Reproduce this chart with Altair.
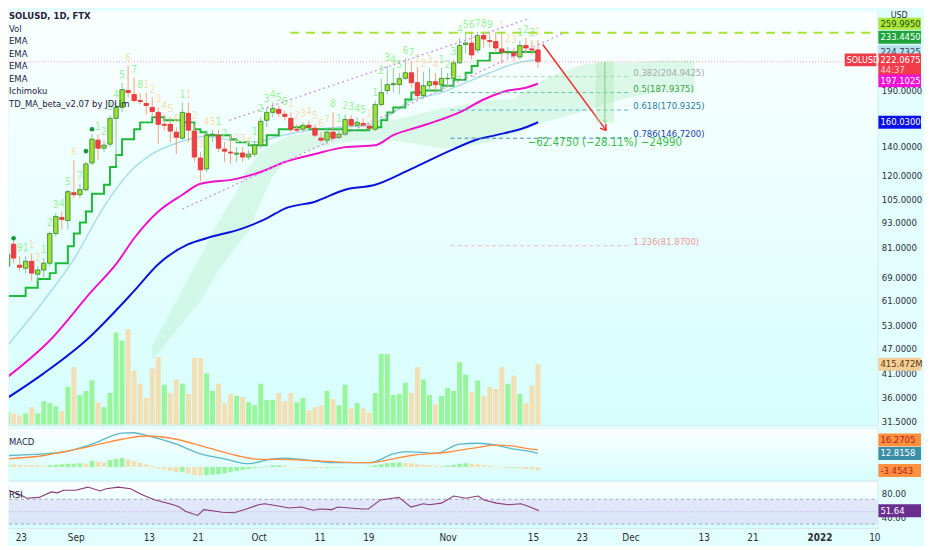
import altair as alt
import pandas as pd

# ---------------- layout (pixels) ----------------
W, H1, H2, H3 = 876, 417, 52, 46
FONT = "Liberation Sans Narrow, DejaVu Sans Condensed, Arial Narrow, sans-serif"
TXT = "#2A2E39"

START = pd.Timestamp("2021-08-20")

# ---------------- price candles (daily, from 2021-08-20) ----------------
opens = [73.3, 82.6, 73.7, 72.5, 75.3, 70.2, 71.8, 74.5, 87.5, 95.5,
         93.9, 109.2, 108.0, 111.0, 128.3, 145.2, 139.0, 142.1, 163.4, 173.4,
         190.0, 186.0, 180.0, 177.1, 173.4, 168.8, 158.2, 158.2, 151.6, 146.8,
         167.9, 152.5, 131.8, 124.2, 149.2, 149.2, 138.3, 136.1, 134.6, 135.4,
         132.5, 134.6, 141.3, 161.7, 168.8, 171.6, 167.0, 163.4, 154.0, 154.0,
         157.4, 154.9, 146.8, 145.2, 151.6, 147.5, 150.0, 162.5, 157.4, 159.0,
         156.5, 154.0, 176.2, 190.0, 196.2, 196.2, 203.0, 209.2, 198.3, 184.9,
         195.1, 199.4, 196.2, 202.6, 203.0, 220.8, 243.9, 245.9, 236.8, 256.1,
         249.2, 247.9, 238.1, 233.0, 233.0, 228.0, 242.6, 238.1, 236.8]
highs = [80.4, 86.2, 77.4, 77.4, 78.6, 73.3, 76.6, 88.5, 97.6, 98.6,
         111.0, 130.4, 114.6, 129.0, 150.0, 149.2, 145.2, 166.2, 178.1, 198.3,
         217.2, 203.7, 187.9, 187.9, 182.9, 173.4, 167.0, 164.3, 155.7, 178.1,
         178.1, 158.2, 136.1, 153.3, 153.3, 153.3, 143.6, 150.0, 139.8, 139.8,
         137.6, 145.2, 164.3, 173.4, 178.1, 175.2, 170.6, 168.8, 158.2, 159.9,
         161.7, 158.2, 151.6, 154.9, 168.8, 155.7, 167.0, 166.2, 164.3, 163.4,
         159.9, 180.0, 202.6, 217.2, 214.9, 209.2, 226.0, 223.5, 216.0, 210.4,
         214.9, 209.2, 214.9, 209.2, 224.7, 252.6, 259.5, 259.5, 261.3, 261.3,
         259.5, 261.3, 259.5, 240.7, 239.4, 249.2, 252.6, 249.2, 249.9]
lows = [71.4, 74.5, 71.4, 70.6, 67.7, 67.7, 68.4, 73.3, 86.2, 89.5,
        89.5, 106.3, 106.3, 109.8, 126.9, 130.4, 136.1, 139.8, 126.9, 168.8,
        182.9, 178.1, 176.2, 167.0, 164.3, 142.1, 153.3, 143.6, 134.6, 145.2,
        143.6, 129.0, 116.4, 122.2, 143.6, 136.1, 129.0, 127.6, 129.0, 129.0,
        130.4, 132.5, 139.0, 155.7, 164.3, 164.3, 161.7, 151.6, 151.6, 151.6,
        153.3, 147.5, 143.6, 142.1, 145.2, 146.0, 148.4, 155.7, 155.7, 155.7,
        153.3, 152.5, 174.3, 186.0, 187.9, 186.0, 201.5, 193.0, 180.0, 181.9,
        190.0, 190.0, 190.0, 193.0, 201.5, 219.6, 233.0, 224.7, 233.0, 239.4,
        239.4, 233.0, 219.6, 226.8, 223.5, 224.7, 233.0, 230.5, 214.9]
closes = [78.2, 76.6, 72.9, 75.3, 70.6, 71.8, 74.5, 87.5, 96.0, 94.5,
          109.8, 108.0, 111.0, 127.6, 146.0, 139.0, 141.3, 163.4, 173.4, 190.9,
          187.9, 180.0, 179.0, 175.2, 169.7, 158.2, 157.4, 152.5, 147.5, 168.8,
          153.3, 132.5, 123.6, 149.2, 150.0, 139.0, 136.8, 135.4, 135.4, 132.5,
          134.6, 141.3, 160.8, 168.8, 172.5, 167.9, 165.2, 154.0, 153.3, 157.4,
          155.7, 149.2, 145.2, 151.6, 146.8, 150.0, 162.5, 157.4, 159.9, 157.4,
          154.9, 176.2, 187.9, 196.2, 197.3, 202.6, 209.2, 198.3, 184.9, 195.1,
          199.4, 196.2, 203.0, 203.0, 220.8, 242.6, 245.9, 230.5, 256.1, 251.2,
          247.9, 239.4, 234.3, 234.3, 229.3, 242.6, 239.4, 236.8, 222.0675]

# volume in millions, and the bar colour (G = up, T = down)
volumes_m = [84, 77, 63, 77, 120, 77, 162, 148, 127, 92,
             260, 394, 204, 232, 303, 155, 120, 218, 634, 577,
             655, 373, 282, 183, 387, 465, 275, 218, 310, 282,
             211, 458, 458, 352, 232, 282, 148, 211, 197, 190,
             155, 134, 282, 169, 169, 218, 162, 218, 155, 183,
             99, 120, 134, 232, 176, 134, 275, 113, 148, 113,
             84, 218, 486, 486, 204, 211, 289, 218, 394, 310,
             204, 141, 197, 253, 232, 429, 345, 225, 303, 197,
             260, 246, 394, 282, 338, 211, 148, 268, 415.472]
vol_dir = list("GTTGTGGGGT" "GTGGGTGGGG" "TTTTTTGTTG" "TTTGGTTTGT" "GGGGGTTTGG"
               "TTTGTGGTGT" "TGGGGGGTTG" "GTGGGGGTGT" "TTTGTGTTT")

# TD sequential counts (day index, count, colour class)
td_idx = [2, 3, 4, 5, 6, 7, 8, 9, 10, 11, 12, 15, 16, 17, 18, 19, 20, 21, 22,
          23, 24, 25, 26, 27, 28, 29, 30, 31, 32, 33, 34, 35, 36, 38, 39, 40, 41, 42, 43,
          44, 45, 46, 47, 48, 49, 50, 51, 52, 53, 54, 55, 56, 57, 58, 59, 60, 61, 62, 63,
          64, 65, 66, 67, 68, 69, 70, 71, 72, 73, 74, 75, 76, 77, 78, 79, 80, 82, 83, 84,
          85, 86, 87, 88]
td_txt = list("911212345" "6712345678" "1234561123" "4512234123" "4561234567"
              "8123451123" "4567123412" "3456789123" "1231")
td_col = list("DGOOGGGGG" "OGGGGGGOGD" "OOOOOOGOOO" "OOGGOOOGGG" "GGGOOOOOOO"
              "RGGGGGOGGG" "GGGGOOOOGG" "GGGGGDDOOO" "GGGO")
# green TD markers (day index, price)
dot_idx = [1, 13, 14]
dot_price = [85.3, 136.8, 154.0]

# ---------------- moving averages / ichimoku (day index, value) ----------------
ema_lb_idx = [0, 6, 11, 16, 20, 24, 28, 33, 37, 41, 45, 50, 55, 60, 63, 67, 72, 76, 80, 84, 88]
ema_lb_val = [47.7, 60.8, 76.2, 101.3, 120.9, 134.7, 142.8, 148.3, 145.2, 143.6, 148.3,
              153.3, 155.7, 157.4, 165.2, 180.0, 187.9, 198.3, 209.2, 219.6, 224.7325]
ema_mg_idx = [0, 7, 14, 18, 21, 25, 29, 32, 38, 42, 46, 51, 56, 61, 64, 68, 72, 75, 79, 83, 86, 88]
ema_mg_val = [40.2, 49.0, 64.1, 74.1, 85.3, 98.6, 108.0, 114.6, 117.7, 122.2, 129.0,
              134.7, 139.8, 141.3, 149.2, 155.7, 162.5, 168.8, 181.0, 190.0, 193.0, 197.1025]
ema_bl_idx = [0, 6, 13, 21, 25, 30, 33, 39, 43, 46, 51, 56, 61, 67, 74, 78, 81, 86, 88]
ema_bl_val = [35.9, 41.0, 49.0, 64.1, 74.1, 82.6, 85.3, 90.0, 95.0, 100.2, 104.0,
              111.0, 114.0, 124.3, 138.3, 145.9, 149.2, 155.7, 160.03]
base_idx = [0, 3, 5, 7, 8, 10, 11, 12, 13, 14, 16, 17, 18, 19, 21, 22, 24, 26, 29, 31,
            32, 33, 37, 38, 40, 43, 45, 47, 50, 56, 60, 62, 63, 64, 66, 67, 69, 72, 74,
            76, 77, 78, 80, 82, 88]
base_val = [62.4, 65.2, 68.4, 70.6, 74.5, 81.7, 87.5, 92.9, 98.6, 108.6, 114.0, 125.6,
            133.9, 146.0, 154.0, 159.9, 164.3, 161.7, 159.9, 154.0, 151.6, 149.2, 146.0,
            143.6, 141.3, 149.2, 154.0, 155.7, 154.0, 153.3, 155.7, 161.7, 168.8, 173.4,
            181.0, 187.9, 190.0, 195.1, 201.5, 209.2, 217.2, 223.5, 233.0, 234.3, 233.445]
cloud_idx = [24, 28, 32, 35, 38, 40, 42, 44, 46, 50, 55, 60, 64, 68, 72, 76, 80, 84,
             88, 92, 96, 100, 104, 108, 112, 114]
cloud_top = [47.7, 60.8, 77.4, 93.4, 109.8, 125.6, 136.1, 142.1, 147.5, 151.6, 153.3,
             154.9, 161.7, 167.0, 172.5, 176.2, 180.0, 181.9, 198.3, 210.4, 219.6,
             220.8, 220.8, 223.5, 223.5, 223.5]
cloud_bot = [44.0, 51.7, 60.8, 71.4, 81.7, 88.5, 104.0, 119.0, 129.0, 137.6, 143.6,
             145.2, 145.2, 142.1, 139.0, 140.5, 143.6, 150.0, 158.2, 164.3, 170.6,
             178.1, 183.9, 187.9, 187.9, 187.9]

# ---------------- drawings ----------------
fib_levels = [0.382, 0.5, 0.618, 0.786, 1.236]
fib_prices = [204.9425, 187.9375, 170.9325, 146.7200, 81.8700]
fib_line_col = ["#A8D8B0", "#5CC6A0", "#4FB6C8", "#4A86C0", "#F6B8C4"]
fib_text_col = ["#A0A8A8", "#43A047", "#1E7FA0", "#1A3FA8", "#F09A9A"]
fib_start_idx, fib_end_idx = 73.5, 103.5
level0_price, level0_idx = 259.995, 46.9
last_price = 222.0675
chan_up = ([36.8, 86.7], [161.7, 281.3])
chan_dn = ([29.0, 92.1], [99.9, 258.9])
arrow = ([88.8, 99.3], [243.9, 153.3])
range_idx = (97.6, 100.6, 99.1)
range_prices = (222.0675, 159.59)
range_text = "\u221262.4750 (\u221228.11%) \u221224990"

# ---------------- MACD / RSI ----------------
macd_idx = [0, 6, 9, 14, 19, 21, 23, 28, 32, 36, 40, 44, 46, 50, 54, 60, 64, 66, 71, 75, 78, 81, 84, 86, 88]
macd_val = [10.9, 12.4, 14.0, 21.7, 32.2, 32.6, 30.1, 21.7, 12.4, 7.75, 3.1, 7.75, 8.4, 6.2,
            4.0, 4.0, 12.4, 14.6, 13.0, 21.7, 22.6, 20.8, 17.0, 15.5, 12.8158]
sig_idx = [0, 6, 9, 13, 19, 23, 28, 33, 38, 42, 45, 50, 55, 60, 64, 67, 73, 78, 81, 84, 86, 88]
sig_val = [7.75, 10.9, 14.0, 18.6, 26.4, 29.5, 26.4, 18.6, 10.9, 7.1, 7.1, 6.2, 4.65, 4.0,
           7.75, 10.9, 14.0, 18.6, 20.8, 19.8, 17.7, 16.2705]
hist_val = [3.0, 2.5, 2.0, 1.7, 1.5, 1.3, 1.2, 1.5, 2.0, 2.5,
            3.0, 3.0, 3.5, 3.0, 6.0, 5.0, 4.5, 6.5, 7.5, 8.4,
            7.0, 5.5, 4.0, 2.5, 1.0, -1.5, -2.5, -4.0, -5.0, -4.5,
            -6.5, -8.0, -8.7, -8.0, -7.5, -7.0, -6.0, -5.0, -4.0, -3.0,
            -2.0, -1.0, -0.5, 0.5, 1.5, 1.5, 1.0, -0.3, -0.6, -0.8,
            -1.0, -0.8, -1.2, -1.0, -0.6, -0.5, -0.4, -0.3, -0.2, -0.1,
            0.5, 1.5, 2.5, 3.5, 4.0, 4.3, 3.8, 3.2, 2.5, 2.0,
            1.5, 1.0, 0.8, 1.0, 2.0, 3.0, 3.5, 3.0, 2.5, 1.5,
            1.0, 0.5, -0.5, -1.0, -0.8, -1.5, -2.0, -2.5, -3.4543]
hist_col = list("GPPPPPPGGG" "GGGPGPPGGG" "PPPPPOOOOY" "OOOYYYYYYY" "YYYGGGPOOO"
                "OYOYYYYYYY" "GGGGGGPPPP" "PPPGGGGPPP" "PPOOYOOOO")
rsi_idx = [0, 1, 3, 4, 6, 8, 9, 10, 12, 14, 16, 17, 19, 21, 22, 23, 25, 26, 28, 29, 30, 32,
           33, 35, 36, 38, 40, 42, 43, 45, 47, 49, 51, 52, 54, 55, 57, 59, 60, 62, 64, 65,
           67, 69, 70, 72, 74, 76, 78, 79, 81, 83, 85, 86, 88]
rsi_val = [92.3, 84.5, 76.8, 71.6, 73.1, 81.9, 80.4, 84.5, 84.5, 89.7, 83.5, 87.1, 89.7,
           87.1, 81.9, 76.8, 69.0, 66.4, 61.2, 57.5, 50.8, 44.0, 53.4, 50.8, 49.2, 48.2,
           54.4, 61.2, 62.7, 59.6, 56.0, 57.5, 52.3, 54.4, 53.4, 57.5, 56.0, 54.4, 54.4,
           69.0, 71.6, 73.1, 57.5, 62.7, 61.2, 63.8, 75.2, 71.6, 75.2, 69.0, 63.8, 61.2,
           62.7, 59.6, 51.64]

# ---------------- axis labels ----------------
price_ticks = [31.5, 36, 41, 47, 53, 61, 69, 81, 93, 105, 120, 140, 190]
x_ticks = [(2021, 8, 23), (2021, 9, 1), (2021, 9, 13), (2021, 9, 21), (2021, 10, 1),
           (2021, 10, 11), (2021, 10, 19), (2021, 11, 1), (2021, 11, 15), (2021, 11, 23),
           (2021, 12, 1), (2021, 12, 13), (2021, 12, 21), (2022, 1, 1), (2022, 1, 10)]
legend_lines = ["SOLUSD, 1D, FTX", "Vol", "EMA", "EMA", "EMA", "EMA", "Ichimoku",
                "TD_MA_beta_v2.07 by JDLim"]


def day(i):
    return START + pd.Timedelta(days=float(i))


def days(lst):
    return [day(i) for i in lst]


# ---------------- frames ----------------
n = len(opens)
cdf = pd.DataFrame({"date": days(range(n)), "open": opens, "high": highs,
                    "low": lows, "close": closes})
vdf = pd.DataFrame({"date": days(range(n)), "vol": volumes_m, "dir": vol_dir})
hdf = pd.DataFrame({"date": days(range(n)), "h": hist_val, "c": hist_col})
tdf = pd.DataFrame({"date": days(td_idx), "high": [highs[i] for i in td_idx],
                    "t": td_txt, "c": td_col})

XDOM = [alt.DateTime(year=2021, month=8, date=21, hours=1, minutes=22),
        alt.DateTime(year=2022, month=1, date=10, hours=12)]
xs = alt.Scale(domain=XDOM)
XN = alt.X("date:T", scale=xs, axis=None, title=None)

ps = alt.Scale(type="log", domain=[31.03, 292.0], nice=False)
PAX = alt.Axis(orient="right", values=price_ticks, format=".4f", title=None, grid=False,
               domain=False, ticks=False, labelFont=FONT, labelFontSize=9.5,
               labelColor=TXT, labelPadding=4, zindex=0)


def PY(f):
    return alt.Y(f, type="quantitative", scale=ps, axis=PAX, title=None)


dummy = pd.DataFrame({"a": [0]})


def bg(h):
    grad = alt.LinearGradient(gradient="linear", x1=0, x2=0, y1=0, y2=1,
                              stops=[alt.GradientStop(color="#FBFFFF", offset=0),
                                     alt.GradientStop(color="#D6FEFD", offset=1)])
    return alt.Chart(dummy).mark_rect(color=grad).encode(
        x=alt.value(0), x2=alt.value(W), y=alt.value(0), y2=alt.value(h))


def tag(value, label, bg_col, fg, ycode, dy=0.0, h=13, x0=W + 1, w=43, size=9.5):
    d = pd.DataFrame({"v": [value], "t": [label]})
    b = alt.Chart(d)
    r = b.mark_rect(color=bg_col, yOffset=dy - h / 2, y2Offset=dy + h / 2).encode(
        x=alt.value(x0), x2=alt.value(x0 + w), y=ycode("v"), y2="v:Q")
    t = b.mark_text(color=fg, dy=dy, align="left", baseline="middle", font=FONT,
                    fontSize=size).encode(x=alt.value(x0 + 2), y=ycode("v"), text="t:N")
    return [r, t]


def line_df(idx, val):
    return pd.DataFrame({"date": days(idx), "v": val})


# ---------------- main pane ----------------
cloud = alt.Chart(pd.DataFrame({"date": days(cloud_idx), "top": cloud_top,
                                "bot": cloud_bot})).mark_area(
    color="#BDEFCF", opacity=0.45, clip=True).encode(x=XN, y=PY("top"), y2="bot")

VS = alt.Scale(domain=[0, 2840])
vol = alt.Chart(vdf).mark_bar(size=5, clip=True).encode(
    x=XN, y=alt.Y("vol:Q", scale=VS, axis=None),
    color=alt.Color("dir:N", scale=alt.Scale(domain=["G", "T"], range=["#98F59B", "#F3DFB4"]),
                    legend=None))

l_lb = alt.Chart(line_df(ema_lb_idx, ema_lb_val)).mark_line(
    color="#A9DDE8", strokeWidth=1.5, clip=True, interpolate="monotone").encode(x=XN, y=PY("v"))
l_mg = alt.Chart(line_df(ema_mg_idx, ema_mg_val)).mark_line(
    color="#F012C8", strokeWidth=2, clip=True, interpolate="monotone").encode(x=XN, y=PY("v"))
l_bl = alt.Chart(line_df(ema_bl_idx, ema_bl_val)).mark_line(
    color="#0A14D8", strokeWidth=2, clip=True, interpolate="monotone").encode(x=XN, y=PY("v"))
l_base = alt.Chart(line_df(base_idx, base_val)).mark_line(
    color="#1EB83A", strokeWidth=2, clip=True, interpolate="step-after").encode(x=XN, y=PY("v"))

up = "datum.close >= datum.open"
wick = alt.Chart(cdf).mark_rule(strokeWidth=1, clip=True).encode(
    x=XN, y=PY("low"), y2="high:Q",
    color=alt.condition(up, alt.value("#8FC79A"), alt.value("#F7A27A")))
body = alt.Chart(cdf).mark_bar(size=4.4, clip=True, strokeWidth=0.9).encode(
    x=XN, y=PY("open"), y2="close:Q",
    color=alt.condition(up, alt.value("#9BE22F"), alt.value("#F03E45")),
    stroke=alt.condition(up, alt.value("#3D8B3A"), alt.value("#E53935")))
td = alt.Chart(tdf).mark_text(font=FONT, fontSize=10.5, dy=-8, baseline="middle",
                              clip=True).encode(
    x=XN, y=PY("high"), text="t:N",
    color=alt.Color("c:N", scale=alt.Scale(domain=["G", "D", "O", "R"],
                                           range=["#62C266", "#0E8C36", "#F28C45", "#E53935"]),
                    legend=None))
dots = alt.Chart(pd.DataFrame({"date": days(dot_idx), "v": dot_price})).mark_circle(
    color="#159A3C", size=22, opacity=1, clip=True).encode(x=XN, y=PY("v"))

last_line = alt.Chart(pd.DataFrame({"v": [last_price]})).mark_rule(
    color="#F59A9A", strokeDash=[1, 2], strokeWidth=1).encode(
    x=alt.value(0), x2=alt.value(W), y=PY("v"))
lvl0 = alt.Chart(pd.DataFrame({"date": [day(level0_idx)], "v": [level0_price]})).mark_rule(
    color="#A6E43A", strokeDash=[9, 7], strokeWidth=2).encode(
    x=XN, x2=alt.value(W), y=PY("v"))

fdf = pd.DataFrame({"s": [day(fib_start_idx)] * 5, "e": [day(fib_end_idx)] * 5,
                    "v": fib_prices, "lc": fib_line_col, "tc": fib_text_col,
                    "t": [f"{l}({p:.4f})" for l, p in zip(fib_levels, fib_prices)]})
fib_lines = alt.Chart(fdf).mark_rule(strokeDash=[4, 3], strokeWidth=1).encode(
    x=alt.X("s:T", scale=xs, axis=None), x2="e:T", y=PY("v"),
    color=alt.Color("lc:N", scale=None))
fib_text = alt.Chart(fdf).mark_text(align="left", baseline="middle", dy=-4, dx=2,
                                    font=FONT, fontSize=9.5).encode(
    x=alt.X("e:T", scale=xs, axis=None), y=PY("v"), text="t:N",
    color=alt.Color("tc:N", scale=None))

chan = alt.Chart(pd.concat([
    pd.DataFrame({"date": days(chan_up[0]), "v": chan_up[1], "k": "u"}),
    pd.DataFrame({"date": days(chan_dn[0]), "v": chan_dn[1], "k": "d"})])).mark_line(
    color="#C894E0", strokeDash=[2, 3], strokeWidth=1.3).encode(x=XN, y=PY("v"), detail="k:N")

arr_df = pd.DataFrame({"date": days(arrow[0]), "v": arrow[1]})
arr_line = alt.Chart(arr_df).mark_line(color="#F42C2C", strokeWidth=1.5).encode(x=XN, y=PY("v"))
arr_head = alt.Chart(arr_df.iloc[[1]]).mark_point(
    shape="M -0.7 -1 L 0 0 L 0.7 -1", filled=False, strokeWidth=1.5, color="#F42C2C",
    size=110, angle=323, opacity=1).encode(x=XN, y=PY("v"))

rng_df = pd.DataFrame({"s": [day(range_idx[0])], "e": [day(range_idx[1])],
                       "m": [day(range_idx[2])], "v1": [range_prices[0]],
                       "v2": [range_prices[1]]})
rng_rect = alt.Chart(rng_df).mark_rect(color="#A8E6A8", opacity=0.35).encode(
    x=alt.X("s:T", scale=xs, axis=None), x2="e:T", y=PY("v1"), y2="v2:Q")
rng_line = alt.Chart(rng_df).mark_rule(color="#7FD08A", strokeWidth=1).encode(
    x=alt.X("m:T", scale=xs, axis=None), y=PY("v1"), y2="v2:Q")
rng_head = alt.Chart(rng_df).mark_point(shape="M -0.7 -1 L 0 0 L 0.7 -1", filled=False,
                                        strokeWidth=1, color="#7FD08A", size=40).encode(
    x=alt.X("m:T", scale=xs, axis=None), y=PY("v2"))
rng_text = alt.Chart(pd.DataFrame({"m": [day(range_idx[2])], "v": [143.2], "t": [range_text]})
                     ).mark_text(color="#3DBE4C", font=FONT, fontSize=11.5, baseline="middle").encode(
    x=alt.X("m:T", scale=xs, axis=None), y=PY("v"), text="t:N")

legend = []
for i, s in enumerate(legend_lines):
    legend.append(alt.Chart(pd.DataFrame({"t": [s]})).mark_text(
        align="left", baseline="middle", font=FONT, fontSize=9.5, color="#1E2240",
        fontWeight="bold" if i == 0 else "normal").encode(
        x=alt.value(0), y=alt.value(5 + 12.6 * i), text="t:N"))

tags = []
tags += tag(259.995, "259.9950", "#A8E83A", "#2F4A10", PY, dy=-9, h=12)
tags += tag(233.445, "233.4450", "#1EA53C", "white", PY, dy=-15.5)
tags += tag(224.7325, "224.7325", "#B7E4EC", "#2A3A60", PY, dy=-8)
tags += tag(last_price, "222.0675", "#F23B48", "white", PY, dy=-2)
tags += tag(last_price, "44:37", "#F23B48", "#FFD0D0", PY, dy=8)
tags += tag(197.1025, "197.1025", "#F212D6", "white", PY, dy=-3)
tags += tag(160.03, "160.0300", "#0A10E8", "white", PY, dy=0)
tags += tag(last_price, "SOLUSD", "#F23B48", "white", PY, dy=-2, x0=W - 33, w=32, size=9)
usd = alt.Chart(pd.DataFrame({"t": ["USD"]})).mark_text(
    font=FONT, fontSize=9, color=TXT, baseline="middle").encode(
    x=alt.value(W + 22), y=alt.value(4), text="t:N")
vtag = alt.Chart(pd.DataFrame({"v": [415.472], "t": ["415.472M"]}))
vt_r = vtag.mark_rect(color="#F6CF98", yOffset=-6.5, y2Offset=6.5).encode(
    x=alt.value(W + 1), x2=alt.value(W + 44),
    y=alt.Y("v:Q", scale=VS, axis=None), y2="v:Q")
vt_t = vtag.mark_text(color="#5A3A10", align="left", baseline="middle", font=FONT,
                      fontSize=9.5).encode(
    x=alt.value(W + 3), y=alt.Y("v:Q", scale=VS, axis=None), text="t:N")

price_layer = alt.layer(cloud, l_lb, l_mg, l_bl, l_base, wick, body, td, dots, last_line, lvl0,
                        fib_lines, fib_text, chan, arr_line, arr_head, rng_rect, rng_line,
                        rng_head, rng_text, *legend, *tags, usd)
vol_layer = alt.layer(vol, vt_r, vt_t)
main = alt.layer(bg(H1), vol_layer, price_layer).resolve_scale(y="independent").properties(
    width=W, height=H1)

# ---------------- MACD pane ----------------
ms = alt.Scale(domain=[-12.7, 36.5], nice=False, zero=False)
MAX = alt.Axis(orient="right", values=[], title=None, grid=False, domain=False,
               ticks=False, labels=False)


def MY(f):
    return alt.Y(f, type="quantitative", scale=ms, axis=MAX, title=None)


hist = alt.Chart(hdf).mark_bar(size=4.6, clip=True).encode(
    x=XN, y=MY("h"), y2=alt.datum(0),
    color=alt.Color("c:N", scale=alt.Scale(domain=["G", "P", "O", "Y"],
                                           range=["#22B83E", "#CBEBCB", "#FF8F3C", "#FFE37A"]),
                    legend=None))
m_line = alt.Chart(line_df(macd_idx, macd_val)).mark_line(
    color="#5AB8C8", strokeWidth=1.3, interpolate="monotone", clip=True).encode(x=XN, y=MY("v"))
s_line = alt.Chart(line_df(sig_idx, sig_val)).mark_line(
    color="#FF8C3A", strokeWidth=1.3, interpolate="monotone", clip=True).encode(x=XN, y=MY("v"))
m_title = alt.Chart(pd.DataFrame({"t": ["MACD"]})).mark_text(
    align="left", baseline="middle", font=FONT, fontSize=9.5, color="#1E2240").encode(
    x=alt.value(0), y=alt.value(13), text="t:N")
mtags = []
mtags += tag(16.2705, "16.2705", "#FF9040", "#B02020", MY, dy=-10)
mtags += tag(12.8158, "12.8158", "#3B8FA6", "white", MY, dy=0)
mtags += tag(-3.4543, "-3.4543", "#FF9040", "#B02020", MY, dy=0)
macd = alt.layer(bg(H2), hist, m_line, s_line, m_title, *mtags).properties(width=W, height=H2)

# ---------------- RSI pane ----------------
rs = alt.Scale(domain=[24.0, 97.6], nice=False, zero=False)
RAX = alt.Axis(orient="right", values=[40, 80], format=".2f", title=None, grid=False,
               domain=False, ticks=False, labelFont=FONT, labelFontSize=9.5,
               labelColor=TXT, labelPadding=4, zindex=0)


def RY(f):
    return alt.Y(f, type="quantitative", scale=rs, axis=RAX, title=None)


XAX = alt.Axis(values=[alt.DateTime(year=y, month=m, date=d) for y, m, d in x_ticks],
               labelExpr="date(datum.value) == 1 ? (month(datum.value) == 0 ? timeFormat(datum.value, '%Y') : timeFormat(datum.value, '%b')) : timeFormat(datum.value, '%-d')",
               labelFontWeight={"condition": {"test": "month(datum.value) == 0 && date(datum.value) == 1",
                                              "value": "bold"}, "value": "normal"},
               title=None, grid=False, domain=False, ticks=False, labelFont=FONT,
               labelFontSize=10, labelColor=TXT, labelPadding=5, labelFlush=False)
band = alt.Chart(pd.DataFrame({"a": [70], "b": [30]})).mark_rect(
    color="#D8CCF4", opacity=0.45).encode(x=alt.value(0), x2=alt.value(W), y=RY("a"), y2="b:Q")
band_lines = alt.Chart(pd.DataFrame({"v": [70, 30]})).mark_rule(
    color="#A7A0C0", strokeDash=[3, 3], strokeWidth=1).encode(
    x=alt.value(0), x2=alt.value(W), y=RY("v"))
mid_line = alt.Chart(pd.DataFrame({"v": [50]})).mark_rule(
    color="#C9A8D8", strokeDash=[1, 2], strokeWidth=1).encode(
    x=alt.value(0), x2=alt.value(W), y=RY("v"))
r_line = alt.Chart(line_df(rsi_idx, rsi_val)).mark_line(
    color="#8A3A78", strokeWidth=1.1, clip=True).encode(
    x=alt.X("date:T", scale=xs, axis=XAX, title=None), y=RY("v"))
r_title = alt.Chart(pd.DataFrame({"t": ["RSI"]})).mark_text(
    align="left", baseline="middle", font=FONT, fontSize=9.5, color="#1E2240").encode(
    x=alt.value(0), y=alt.value(13), text="t:N")
rtags = tag(51.64, "51.64", "#6A2E8E", "white", RY, dy=0)
rsi = alt.layer(bg(H3), band, band_lines, mid_line, r_line, r_title, *rtags).properties(
    width=W, height=H3)

chart = alt.vconcat(main, macd, rsi, spacing=0).properties(
    padding=0, background="#E2FEFE").configure_view(stroke="#D3E3E6", strokeWidth=1)

chart.save("out.html", embed_options={"renderer": "svg", "actions": False})
